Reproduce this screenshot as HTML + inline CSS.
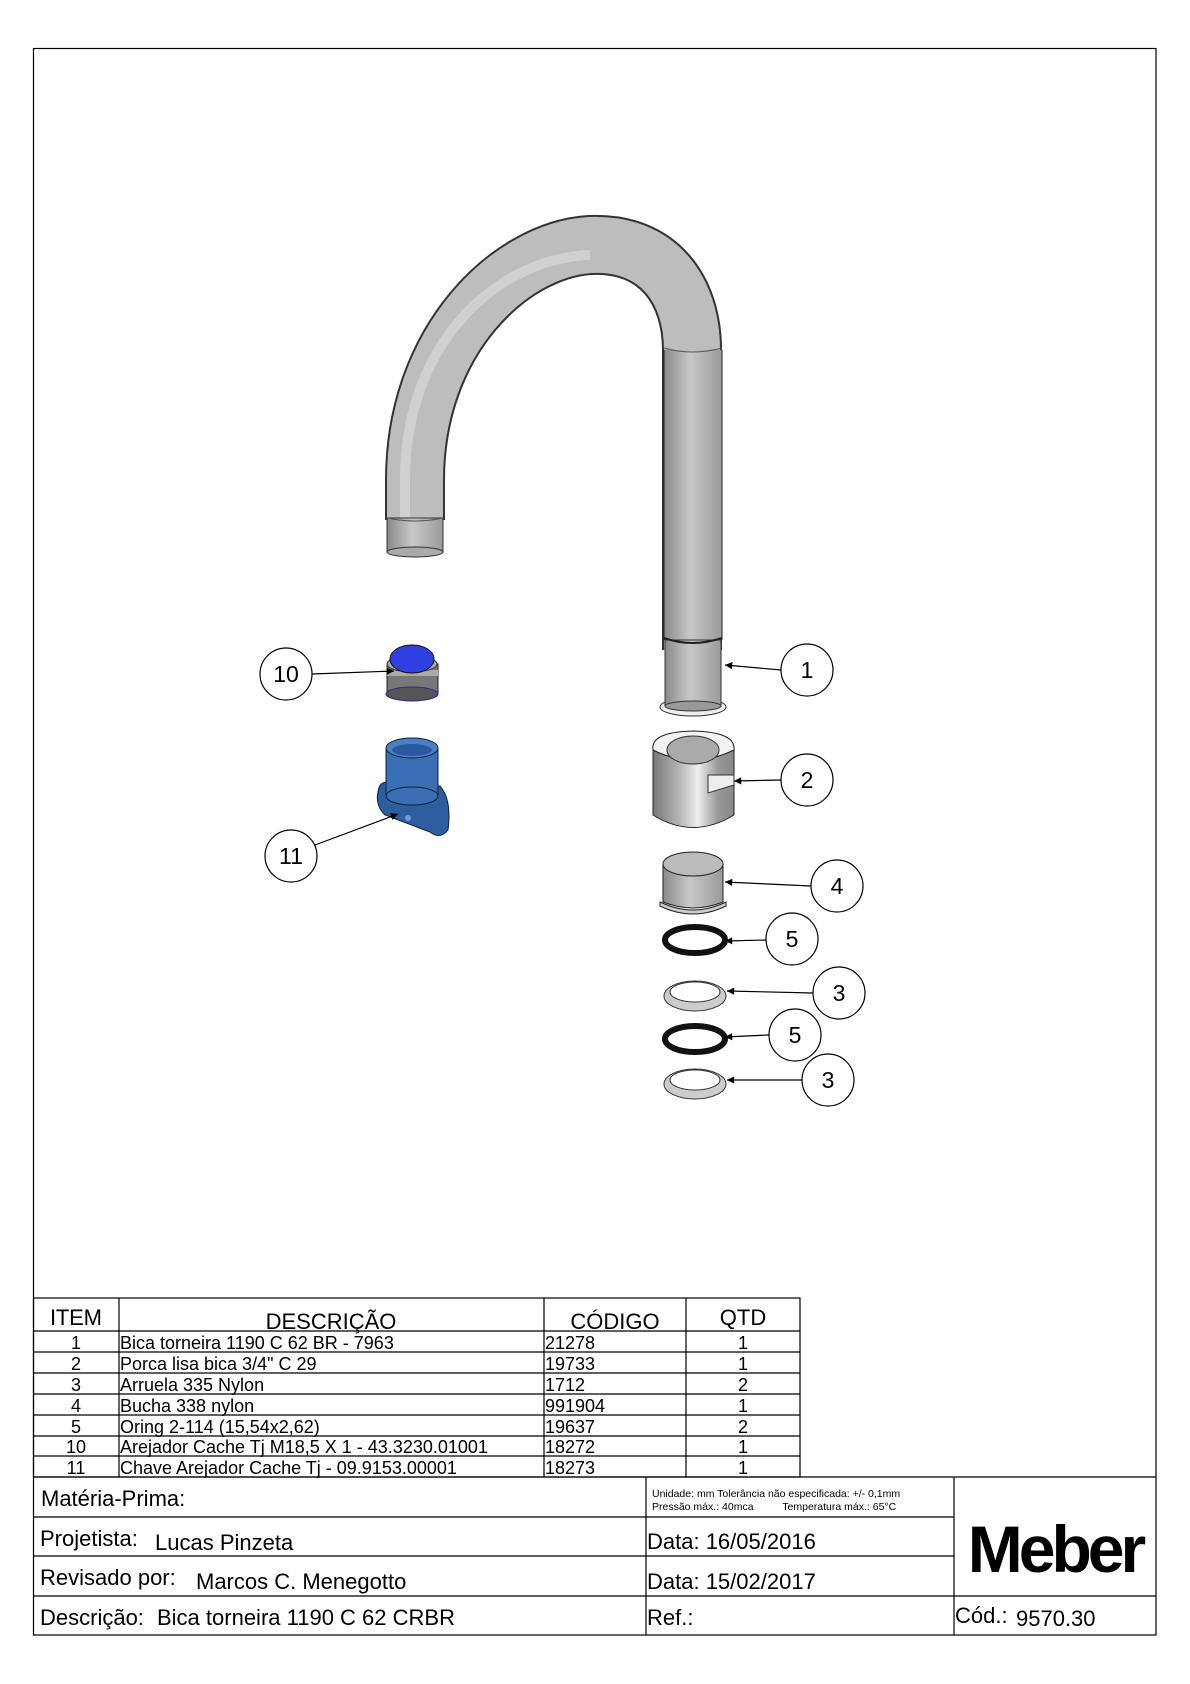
<!DOCTYPE html>
<html><head><meta charset="utf-8"><style>
html,body{margin:0;padding:0;background:#fff}
svg{display:block}
text{font-family:"Liberation Sans",sans-serif;fill:#000}
.n{font-family:"Liberation Sans Narrow","Liberation Sans",sans-serif}
</style></head><body>
<svg width="1190" height="1684" viewBox="0 0 1190 1684">
<defs>
<linearGradient id="tube" x1="0" x2="1" y1="0" y2="0">
<stop offset="0" stop-color="#8a8a8a"/><stop offset=".45" stop-color="#c8c8c8"/><stop offset="1" stop-color="#9a9a9a"/></linearGradient>
<linearGradient id="nut" x1="0" x2="1">
<stop offset="0" stop-color="#777"/><stop offset=".35" stop-color="#bbb"/><stop offset=".55" stop-color="#eee"/><stop offset=".8" stop-color="#999"/><stop offset="1" stop-color="#888"/></linearGradient>
<marker id="ah" viewBox="0 0 10 10" refX="10" refY="5" markerWidth="8" markerHeight="6" orient="auto"><path d="M0,0 L10,5 L0,10z" fill="#000"/></marker>
</defs>
<rect x="33.5" y="48.5" width="1122.5" height="1586.5" fill="none" stroke="#000" stroke-width="1.2"/>

<!-- faucet spout -->
<path d="M415,520 L415,480 C415,340 510,250 590,245 C660,242 692,292 692,350 L692,650" fill="none" stroke="#333" stroke-width="60"/>
<path d="M415,520 L415,480 C415,340 510,250 590,245 C660,242 692,292 692,350 L692,650" fill="none" stroke="#bdbdbd" stroke-width="56"/>
<path d="M405,520 L405,480 C405,340 500,258 590,255" fill="none" stroke="#d0d0d0" stroke-width="10"/>
<rect x="664" y="350" width="58" height="290" fill="url(#tube)"/>
<line x1="664" y1="350" x2="664" y2="640" stroke="#222"/><line x1="722" y1="350" x2="722" y2="640" stroke="#222"/>
<path d="M664,348 Q692,356 722,348" fill="none" stroke="#555"/>
<rect x="387" y="518" width="56" height="34" fill="url(#tube)" stroke="#333"/>
<path d="M387,518 Q415,524 443,518" fill="none" stroke="#555"/>
<ellipse cx="415" cy="552" rx="28" ry="5" fill="#aaa" stroke="#333"/>
<!-- lower faucet -->
<ellipse cx="693" cy="707" rx="33" ry="9" fill="#eee" stroke="#333"/>
<rect x="665" y="640" width="56" height="66" fill="url(#tube)" stroke="#333"/>
<ellipse cx="693" cy="706" rx="28" ry="5" fill="#999" stroke="#333"/>
<path d="M664,638 Q692,648 722,638" fill="none" stroke="#222" stroke-width="2"/>

<!-- nut 2 -->
<path d="M653,750 L653,815 Q693,840 734,815 L734,750z" fill="url(#nut)" stroke="#222"/>
<path d="M653,750 Q650,732 693,731 Q736,732 734,750 Q693,770 653,750z" fill="#f2f2f2" stroke="#222"/>
<ellipse cx="693" cy="750" rx="26" ry="14" fill="#aaa" stroke="#333"/>
<path d="M708,775 L734,775 L734,785 L708,793z" fill="#eee" stroke="#333"/>
<!-- bucha 4 -->
<path d="M663,864 L663,902 Q693,914 723,902 L723,864z" fill="url(#tube)" stroke="#222"/>
<ellipse cx="693" cy="864" rx="30" ry="12" fill="#bbb" stroke="#222"/>
<path d="M660,902 Q693,918 726,902 L726,906 Q693,922 660,906z" fill="#ccc" stroke="#222"/>
<!-- orings / washers -->
<ellipse cx="695" cy="940" rx="30" ry="13" fill="none" stroke="#111" stroke-width="6"/>
<ellipse cx="695" cy="996" rx="31" ry="15" fill="#ccc" stroke="#333"/>
<ellipse cx="695" cy="992" rx="25" ry="10" fill="#fff" stroke="#333"/>
<ellipse cx="695" cy="1039" rx="30" ry="13" fill="none" stroke="#111" stroke-width="6"/>
<ellipse cx="695" cy="1084" rx="31" ry="15" fill="#ccc" stroke="#333"/>
<ellipse cx="695" cy="1080" rx="25" ry="10" fill="#fff" stroke="#333"/>

<!-- aerator 10 -->
<rect x="387" y="664" width="51" height="30" fill="#777" stroke="#222"/>
<rect x="387" y="670" width="51" height="6" fill="#aaa"/>
<ellipse cx="412" cy="694" rx="26" ry="7" fill="#555" stroke="#2a2a9a"/>
<ellipse cx="412" cy="664" rx="25" ry="8" fill="#aaa" stroke="#333"/>
<ellipse cx="412" cy="659" rx="22" ry="14" fill="#2f3fe0" stroke="#111"/>
<!-- key 11 -->
<path d="M378,792 Q380,775 400,788 L440,786 Q452,800 448,830 Q440,840 430,832 L385,815 Q375,805 378,792z" fill="#2d5ea0" stroke="#123"/>
<rect x="386" y="748" width="52" height="48" fill="#3a6fb5" stroke="#123"/>
<ellipse cx="412" cy="796" rx="26" ry="9" fill="#3a6fb5" stroke="#123"/>
<ellipse cx="412" cy="748" rx="26" ry="10" fill="#4a7fc4" stroke="#123"/>
<ellipse cx="412" cy="750" rx="20" ry="6" fill="#2a5aa0"/>
<circle cx="408" cy="818" r="3" fill="#6a9ae0"/>

<!-- balloons & leaders -->
<g fill="#fff" stroke="#000" stroke-width="1.2">
<line x1="781" y1="670" x2="725" y2="665" marker-end="url(#ah)"/>
<line x1="781" y1="780" x2="734" y2="781" marker-end="url(#ah)"/>
<line x1="811" y1="886" x2="725" y2="882" marker-end="url(#ah)"/>
<line x1="766" y1="940" x2="725" y2="941" marker-end="url(#ah)"/>
<line x1="813" y1="993" x2="727" y2="991" marker-end="url(#ah)"/>
<line x1="769" y1="1035" x2="725" y2="1037" marker-end="url(#ah)"/>
<line x1="802" y1="1080" x2="727" y2="1080" marker-end="url(#ah)"/>
<line x1="312" y1="674" x2="394" y2="671" marker-end="url(#ah)"/>
<line x1="315" y1="845" x2="398" y2="814" marker-end="url(#ah)"/>
<circle cx="807" cy="670" r="26"/><circle cx="807" cy="780" r="26"/><circle cx="837" cy="886" r="26"/>
<circle cx="792" cy="939" r="26"/><circle cx="839" cy="993" r="26"/><circle cx="795" cy="1035" r="26"/>
<circle cx="828" cy="1080" r="26"/><circle cx="286" cy="674" r="26"/><circle cx="291" cy="856" r="26"/>
</g>
<g font-size="23" text-anchor="middle">
<text x="807" y="678">1</text><text x="807" y="788">2</text><text x="837" y="894">4</text>
<text x="792" y="947">5</text><text x="839" y="1001">3</text><text x="795" y="1043">5</text>
<text x="828" y="1088">3</text><text x="286" y="682">10</text><text x="291" y="864">11</text>
</g>

<!-- BOM table -->
<g fill="none" stroke="#000" stroke-width="1.2">
<rect x="33.5" y="1298" width="766.5" height="179"/>
<line x1="119" y1="1298" x2="119" y2="1477"/><line x1="544" y1="1298" x2="544" y2="1477"/><line x1="686" y1="1298" x2="686" y2="1477"/>
<line x1="33" y1="1331" x2="800" y2="1331"/><line x1="33" y1="1352" x2="800" y2="1352"/><line x1="33" y1="1373" x2="800" y2="1373"/>
<line x1="33" y1="1394" x2="800" y2="1394"/><line x1="33" y1="1415" x2="800" y2="1415"/><line x1="33" y1="1436" x2="800" y2="1436"/><line x1="33" y1="1456" x2="800" y2="1456"/>
<line x1="33" y1="1477" x2="1156" y2="1477"/>
<line x1="646" y1="1477" x2="646" y2="1635"/><line x1="954" y1="1477" x2="954" y2="1635"/>
<line x1="33" y1="1517" x2="954" y2="1517"/><line x1="33" y1="1556" x2="954" y2="1556"/><line x1="33" y1="1596" x2="1156" y2="1596"/>
</g>
<g class="n" font-size="22" text-anchor="middle">
<text x="76" y="1325" textLength="52">ITEM</text><text x="331" y="1329">DESCRIÇÃO</text><text x="615" y="1329">CÓDIGO</text><text x="743" y="1325">QTD</text>
</g>
<g font-size="18">
<g text-anchor="middle"><text x="76" y="1349">1</text><text x="76" y="1370">2</text><text x="76" y="1391">3</text><text x="76" y="1412">4</text><text x="76" y="1433">5</text><text x="76" y="1453">10</text><text x="76" y="1474">11</text>
<text x="743" y="1349">1</text><text x="743" y="1370">1</text><text x="743" y="1391">2</text><text x="743" y="1412">1</text><text x="743" y="1433">2</text><text x="743" y="1453">1</text><text x="743" y="1474">1</text></g>
<text x="120" y="1349">Bica torneira 1190 C 62 BR - 7963</text>
<text x="120" y="1370">Porca lisa bica 3/4" C 29</text>
<text x="120" y="1391">Arruela 335 Nylon</text>
<text x="120" y="1412">Bucha 338 nylon</text>
<text x="120" y="1433">Oring 2-114 (15,54x2,62)</text>
<text x="120" y="1453">Arejador Cache Tj  M18,5 X 1 - 43.3230.01001</text>
<text x="120" y="1474">Chave Arejador  Cache Tj - 09.9153.00001</text>
<text x="545" y="1349">21278</text><text x="545" y="1370">19733</text><text x="545" y="1391">1712</text><text x="545" y="1412">991904</text><text x="545" y="1433">19637</text><text x="545" y="1453">18272</text><text x="545" y="1474">18273</text>
</g>
<!-- title block -->
<g font-size="22">
<text x="41" y="1506">Matéria-Prima:</text>
<text x="40" y="1546">Projetista: <tspan x="155" y="1550">Lucas Pinzeta</tspan></text>
<text x="40" y="1585">Revisado por: <tspan x="196" y="1589">Marcos C. Menegotto</tspan></text>
<text x="40" y="1625">Descrição: <tspan x="157">Bica torneira 1190 C 62 CRBR</tspan></text>
<text x="647" y="1549">Data: 16/05/2016</text>
<text x="647" y="1589">Data: 15/02/2017</text>
<text x="647" y="1625">Ref.:</text>
<text x="955" y="1623">Cód.:<tspan x="1016" y="1626">9570.30</tspan></text>
</g>
<text x="652" y="1497" font-size="10.5">Unidade: mm Tolerância não especificada: +/- 0,1mm</text>
<text x="652" y="1510" font-size="10.5">Pressão máx.: 40mca <tspan dx="26">Temperatura máx.: 65°C</tspan></text>
<text x="1055" y="1572" font-size="66" font-weight="bold" text-anchor="middle" letter-spacing="-4">Meber</text>
</svg>
</body></html>
